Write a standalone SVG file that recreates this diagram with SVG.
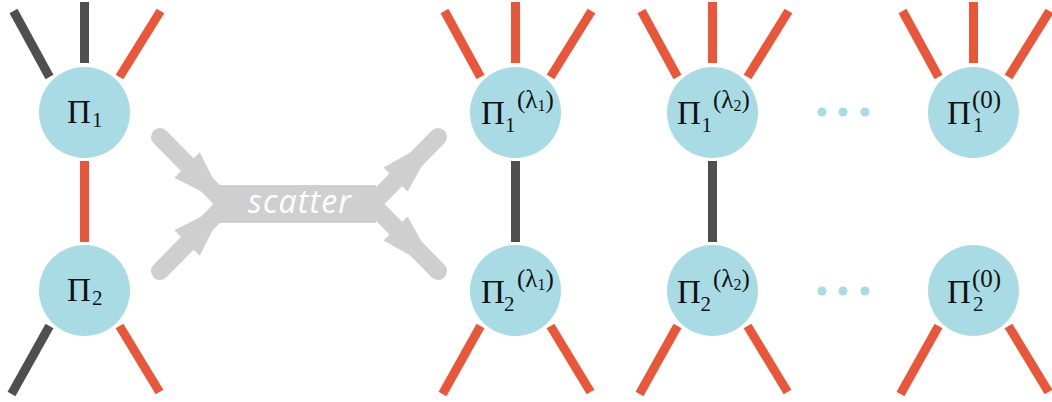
<svg xmlns="http://www.w3.org/2000/svg" width="1052" height="402" viewBox="0 0 1052 402">
<style>
.e{stroke-width:9;stroke-linecap:butt;fill:none}
.r{stroke:#e9573a}
.d{stroke:#4f4f4f}
.n{fill:#a9dbe5}
.dot{fill:#a9dbe5}
.t{font-family:"Liberation Serif","Times New Roman",serif;fill:#111}
.m{font-size:33px}
.s{font-size:21px}
.p{font-size:25px}
.ss{font-size:16px}
.sc{fill:#d0cfd0}
.scl{stroke:#d0cfd0;stroke-width:18;stroke-linecap:round}
</style>
<rect width="1052" height="402" fill="#fff"/>
<g id="connectors">
<!-- column 1 -->
<line class="e d" x1="13.5" y1="11" x2="49.5" y2="77"/>
<line class="e d" x1="84.5" y1="2" x2="84.5" y2="63"/>
<line class="e r" x1="160.5" y1="11" x2="119.5" y2="77"/>
<line class="e r" x1="84.5" y1="161" x2="84.5" y2="242"/>
<line class="e d" x1="49.5" y1="326" x2="11.5" y2="394"/>
<line class="e r" x1="119.5" y1="326" x2="159.5" y2="392"/>
<!-- column 2 -->
<line class="e r" x1="444.5" y1="11" x2="480.5" y2="77"/>
<line class="e r" x1="515.5" y1="2" x2="515.5" y2="63"/>
<line class="e r" x1="591.5" y1="11" x2="550.5" y2="77"/>
<line class="e d" x1="515.5" y1="161" x2="515.5" y2="242"/>
<line class="e r" x1="480.5" y1="326" x2="442.5" y2="394"/>
<line class="e r" x1="550.5" y1="326" x2="590.5" y2="392"/>
<!-- column 3 -->
<line class="e r" x1="641.5" y1="11" x2="677.5" y2="77"/>
<line class="e r" x1="712.5" y1="2" x2="712.5" y2="63"/>
<line class="e r" x1="788.5" y1="11" x2="747.5" y2="77"/>
<line class="e d" x1="712.5" y1="161" x2="712.5" y2="242"/>
<line class="e r" x1="677.5" y1="326" x2="639.5" y2="394"/>
<line class="e r" x1="747.5" y1="326" x2="787.5" y2="392"/>
<!-- column 4 -->
<line class="e r" x1="902.5" y1="11" x2="938.5" y2="77"/>
<line class="e r" x1="973.5" y1="2" x2="973.5" y2="63"/>
<line class="e r" x1="1049.5" y1="11" x2="1008.5" y2="77"/>
<line class="e r" x1="938.5" y1="326" x2="900.5" y2="394"/>
<line class="e r" x1="1008.5" y1="326" x2="1048.5" y2="392"/>
</g>
<g id="scatter">
<rect class="sc" x="216" y="185" width="160" height="38"/>
<line class="scl" x1="160" y1="137" x2="226" y2="204"/>
<line class="scl" x1="160" y1="271" x2="226" y2="204"/>
<line class="scl" x1="372" y1="204" x2="438" y2="137"/>
<line class="scl" x1="372" y1="204" x2="438" y2="271"/>
<polygon class="sc" points="226,204 199.7,152.3 174.3,177.7"/>
<polygon class="sc" points="226,204 199.7,255.7 174.3,230.3"/>
<polygon class="sc" points="438,137 383.6,167.4 407.6,191.4"/>
<polygon class="sc" points="438,271 383.6,240.6 407.6,216.6"/>
<text x="248" y="213" textLength="103" lengthAdjust="spacing" font-family="'Open Sans','DejaVu Sans',sans-serif" font-style="italic" font-size="32" fill="#fff">scatter</text>
</g>
<g id="node-p1">
<circle class="n" cx="84.5" cy="112.5" r="45.5"/>
<text class="t m" x="67" y="123">Π</text>
<text class="t s" x="92" y="127">1</text>
</g>
<g id="node-p2">
<circle class="n" cx="84.5" cy="290.5" r="45.5"/>
<text class="t m" x="67" y="301">Π</text>
<text class="t s" x="92" y="305">2</text>
</g>
<g id="node-p1-l1">
<circle class="n" cx="515.5" cy="112.5" r="45.5"/>
<text class="t m" x="481" y="124">Π</text>
<text class="t s" x="505" y="132">1</text>
<text class="t p" x="517" y="108">(λ<tspan class="ss" dy="3">1</tspan><tspan dy="-3">)</tspan></text>
</g>
<g id="node-p2-l1">
<circle class="n" cx="515.5" cy="290.5" r="45.5"/>
<text class="t m" x="481" y="303">Π</text>
<text class="t s" x="504" y="311">2</text>
<text class="t p" x="517" y="287">(λ<tspan class="ss" dy="3">1</tspan><tspan dy="-3">)</tspan></text>
</g>
<g id="node-p1-l2">
<circle class="n" cx="712.5" cy="112.5" r="45.5"/>
<text class="t m" x="677" y="124">Π</text>
<text class="t s" x="701.5" y="132">1</text>
<text class="t p" x="713" y="108">(λ<tspan class="ss" dy="3">2</tspan><tspan dy="-3">)</tspan></text>
</g>
<g id="node-p2-l2">
<circle class="n" cx="712.5" cy="290.5" r="45.5"/>
<text class="t m" x="677" y="303">Π</text>
<text class="t s" x="700.5" y="311">2</text>
<text class="t p" x="713" y="287">(λ<tspan class="ss" dy="3">2</tspan><tspan dy="-3">)</tspan></text>
</g>
<g id="node-p1-0">
<circle class="n" cx="973.5" cy="112.5" r="45.5"/>
<text class="t m" x="947" y="124">Π</text>
<text class="t s" x="973" y="132">1</text>
<text class="t p" x="972" y="108">(0)</text>
</g>
<g id="node-p2-0">
<circle class="n" cx="973.5" cy="290.5" r="45.5"/>
<text class="t m" x="947" y="303">Π</text>
<text class="t s" x="973" y="311">2</text>
<text class="t p" x="972" y="287">(0)</text>
</g>
<g id="dots-top">
<circle class="dot" cx="822" cy="112" r="4.5"/>
<circle class="dot" cx="843" cy="112" r="4.5"/>
<circle class="dot" cx="865" cy="112" r="4.5"/>
</g>
<g id="dots-bottom">
<circle class="dot" cx="822" cy="291" r="4.5"/>
<circle class="dot" cx="843" cy="291" r="4.5"/>
<circle class="dot" cx="865" cy="291" r="4.5"/>
</g>
</svg>
